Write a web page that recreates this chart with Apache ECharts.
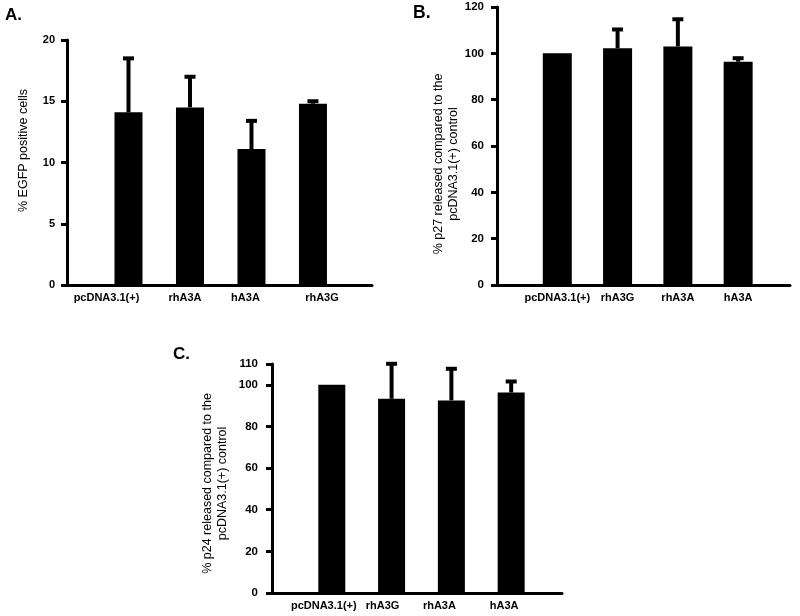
<!DOCTYPE html>
<html><head><meta charset="utf-8">
<script src="https://cdn.jsdelivr.net/npm/echarts@6/dist/echarts.min.js"></script>
<style>html,body{margin:0;padding:0;background:#fff}#c{width:800px;height:616px}</style>
</head><body><div id="c"></div>
<script>
// Panel A
const catsA = ['pcDNA3.1(+)', 'rhA3A', 'hA3A', 'rhA3G'];
const valsA = [14.1, 14.5, 11.1, 14.8];
const errA = [4.4, 2.5, 2.3, 0.2];
const yTicksA = [0, 5, 10, 15, 20];
// Panel B
const catsB = ['pcDNA3.1(+)', 'rhA3G', 'rhA3A', 'hA3A'];
const valsB = [100, 102.2, 103, 96.4];
const errB = [0, 8.1, 11.7, 1.5];
const yTicksB = [0, 20, 40, 60, 80, 100, 120];
// Panel C
const catsC = ['pcDNA3.1(+)', 'rhA3G', 'rhA3A', 'hA3A'];
const valsC = [100, 93.3, 92.5, 96.3];
const errC = [0, 16.8, 15.2, 5.3];
const yTicksC = [0, 20, 40, 60, 80, 100, 110];

const FONT = "'Liberation Sans', Arial, sans-serif";
// label horizontal nudges (style only)
const labelShiftA = [-22, -5, -6, 9];
const labelShiftB = [0, 0, 0, 0];
const labelShiftC = [-8, -9, -12, -7];

function makeRich(shifts) {
  const rich = {};
  shifts.forEach((d, i) => {
    rich['l' + i] = {
      fontFamily: FONT, fontWeight: 'bold', fontSize: 11, color: '#000',
      padding: d < 0 ? [0, -2 * d, 0, 0] : [0, 0, 0, 2 * d]
    };
  });
  return rich;
}

function xAxisFor(gi, cats, xmax, shifts) {
  return {
    gridIndex: gi, type: 'value', min: 0, max: xmax, interval: 1,
    splitLine: { show: false },
    axisLine: { show: true, onZero: false, lineStyle: { color: '#000', width: 3 } },
    axisTick: { show: false },
    axisLabel: {
      margin: 7, showMaxLabel: false,
      formatter: v => {
        const i = Math.round(v) - 1;
        if (Math.abs(v - Math.round(v)) > 1e-6 || i < 0 || i >= cats.length) return '';
        return '{l' + i + '|' + cats[i] + '}';
      },
      rich: makeRich(shifts)
    }
  };
}

function yAxisFor(gi, ticks, name, nameGap, pad, fs, margin) {
  return {
    gridIndex: gi, type: 'value',
    min: ticks[0], max: ticks[ticks.length - 1], interval: ticks[1] - ticks[0],
    splitLine: { show: false },
    axisLine: { show: true, lineStyle: { color: '#000', width: 3 } },
    axisTick: { show: true, length: 6, lineStyle: { color: '#000', width: 3 } },
    axisLabel: { color: '#000', fontFamily: FONT, fontWeight: 'bold', fontSize: fs, margin: margin },
    name: name, nameLocation: 'middle', nameGap: nameGap, nameRotate: 90,
    nameTextStyle: { color: '#000', fontFamily: FONT, fontSize: 12.5, lineHeight: 15, padding: pad }
  };
}

function errRender(params, api) {
  const x = api.value(0), v = api.value(1), e = api.value(2);
  if (!e) return null;
  const p0 = api.coord([x, v]);
  const p1 = api.coord([x, v + e]);
  return {
    type: 'group',
    children: [
      { type: 'rect', shape: { x: p1[0] - 2, y: p1[1], width: 4, height: p0[1] - p1[1] }, style: { fill: '#000' } },
      { type: 'rect', shape: { x: p1[0] - 5.5, y: p1[1] - 2, width: 11, height: 4 }, style: { fill: '#000' } }
    ]
  };
}

function barSeries(gi, vals, bw) {
  return {
    type: 'bar', xAxisIndex: gi, yAxisIndex: gi, barWidth: bw,
    itemStyle: { color: '#000' }, silent: true,
    data: vals.map((v, i) => [i + 1, v])
  };
}
function errSeries(gi, vals, errs) {
  return {
    type: 'custom', xAxisIndex: gi, yAxisIndex: gi, silent: true,
    renderItem: errRender,
    data: vals.map((v, i) => [i + 1, v, errs[i]]),
    z: 3
  };
}

const chart = echarts.init(document.getElementById('c'), null, { renderer: 'canvas' });
chart.setOption({
  animation: false,
  backgroundColor: '#fff',
  textStyle: { fontFamily: FONT },
  title: [
    { text: 'A.', left: 5, top: 7, padding: 0, textStyle: { fontFamily: FONT, fontWeight: 'bold', fontSize: 17, color: '#000' } },
    { text: 'B.', left: 413, top: 4, padding: 0, textStyle: { fontFamily: FONT, fontWeight: 'bold', fontSize: 17.5, color: '#000' } },
    { text: 'C.', left: 173, top: 346, padding: 0, textStyle: { fontFamily: FONT, fontWeight: 'bold', fontSize: 17, color: '#000' } }
  ],
  grid: [
    { left: 67, right: 428, top: 40, bottom: 331 },
    { left: 497, right: 10, top: 7, bottom: 331 },
    { left: 272, right: 238, top: 364, bottom: 23 }
  ],
  xAxis: [
    xAxisFor(0, catsA, 4.96, labelShiftA),
    xAxisFor(1, catsB, 4.86, labelShiftB),
    xAxisFor(2, catsC, 4.85, labelShiftC)
  ],
  yAxis: [
    yAxisFor(0, yTicksA, '% EGFP positive cells', 36, [0, 0, 0, 24], 11, 12),
    yAxisFor(1, yTicksB, '% p27 released compared to the\npcDNA3.1(+) control', 36, [0, 36, 0, 0], 11.5, 13),
    yAxisFor(2, yTicksC, '% p24 released compared to the\npcDNA3.1(+) control', 42, [0, 10, 0, 0], 11.5, 14)
  ],
  series: [
    barSeries(0, valsA, 28), errSeries(0, valsA, errA),
    barSeries(1, valsB, 29), errSeries(1, valsB, errB),
    barSeries(2, valsC, 27), errSeries(2, valsC, errC)
  ]
});
</script>
</body></html>
